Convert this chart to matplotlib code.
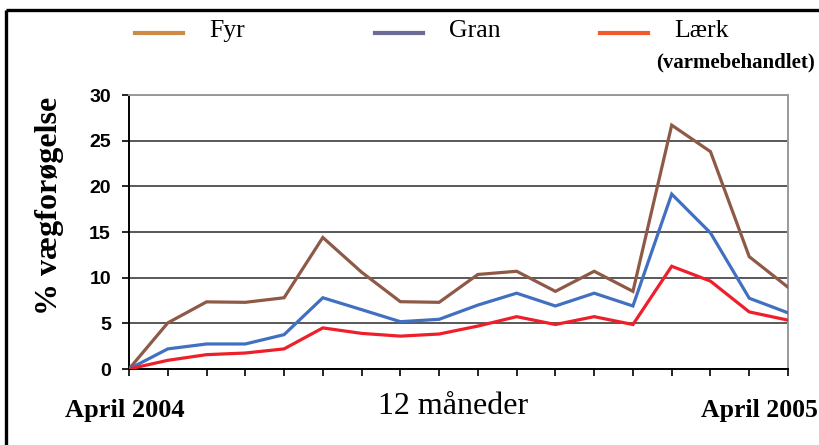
import matplotlib
matplotlib.use("Agg")
import matplotlib.pyplot as plt
from matplotlib.lines import Line2D

# monthly readings, April 2004 -> April 2005 (two per month roughly)
fyr = [0, 5.05, 7.35, 7.3, 7.8, 14.4, 10.6, 7.37, 7.3, 10.35, 10.7, 8.5, 10.7, 8.5, 26.7, 23.8, 12.3, 8.95]
gran = [0, 2.2, 2.74, 2.74, 3.76, 7.8, 6.5, 5.18, 5.44, 7.0, 8.3, 6.9, 8.3, 6.9, 19.15, 14.9, 7.75, 6.15]
laerk = [0, 0.95, 1.57, 1.75, 2.2, 4.5, 3.9, 3.6, 3.83, 4.7, 5.73, 4.87, 5.73, 4.87, 11.25, 9.62, 6.25, 5.35]
yticks = [0, 5, 10, 15, 20, 25, 30]
legend_names = ["Fyr", "Gran", "Lærk"]
legend_colors = ["#CF8B45", "#6C6A96", "#F2592B"]

W, H = 820, 445
fig = plt.figure(figsize=(W / 100, H / 100), dpi=100)
fig.patch.set_facecolor("white")

ax = fig.add_axes([129 / W, 1 - 369 / H, (788 - 129) / W, (369 - 95) / H])

x = list(range(len(fyr)))
ax.plot(x, fyr, color="#8E5A47", lw=2.3, solid_joinstyle="miter", zorder=3)
ax.plot(x, gran, color="#4170C0", lw=2.3, solid_joinstyle="miter", zorder=3)
ax.plot(x, laerk, color="#EE1F2A", lw=2.3, solid_joinstyle="miter", zorder=3)

ax.set_xlim(0, len(fyr) - 1)
ax.set_ylim(0, 30)
ax.set_yticks(yticks)
ax.set_xticks(x)
ax.set_xticklabels([])
ax.set_yticklabels([str(v) for v in yticks], fontfamily="Liberation Sans",
                   fontweight="bold", fontsize=14)
ax.tick_params(axis="both", direction="out", length=5, width=1.2, color="black")
ax.tick_params(axis="y", pad=8)
ax.yaxis.grid(True, color="#3c3c3c", lw=1.2)
ax.set_axisbelow(True)
for side in ("left", "bottom"):
    ax.spines[side].set_color("black")
    ax.spines[side].set_linewidth(1.4)
for side in ("top", "right"):
    ax.spines[side].set_color("#9a9a9a")
    ax.spines[side].set_linewidth(1.4)

fig.text(50 / W, 1 - 206 / H, "% vægforøgelse", rotation=90, ha="center", va="center",
         fontfamily="Liberation Serif", fontweight="bold", fontsize=23)

# legend swatches and names, drawn in figure space
for hx, col, name in zip([135, 375, 600], legend_colors, legend_names):
    y = 1 - 33 / H
    fig.add_artist(Line2D([hx / W, (hx + 48) / W], [y, y], color=col, lw=3,
                          transform=fig.transFigure))
    fig.text((hx + 74) / W, 1 - 31 / H, name, ha="left", va="center",
             fontfamily="Liberation Serif", fontsize=18.5)
fig.text(656 / W, 1 - 62 / H, "(varmebehandlet)", ha="left", va="center",
         fontfamily="Liberation Serif", fontweight="bold", fontsize=15)

fig.text(125 / W, 1 - 410 / H, "April 2004", ha="center", va="center",
         fontfamily="Liberation Serif", fontweight="bold", fontsize=19)
fig.text(453 / W, 1 - 406 / H, "12 måneder", ha="center", va="center",
         fontfamily="Liberation Serif", fontsize=23)
fig.text(759 / W, 1 - 410 / H, "April 2005", ha="center", va="center",
         fontfamily="Liberation Serif", fontweight="bold", fontsize=18.5)

# outer black frame: top and left edges only, the rest runs off the page
top = 1 - 10 / H
left = 6.5 / W
fig.add_artist(Line2D([left, 1.0], [top, top], color="black", lw=2.4,
                      solid_capstyle="butt", transform=fig.transFigure))
fig.add_artist(Line2D([left, left], [top, 0.0], color="black", lw=2.4,
                      solid_capstyle="butt", transform=fig.transFigure))

fig.savefig("out.png", dpi=100)
